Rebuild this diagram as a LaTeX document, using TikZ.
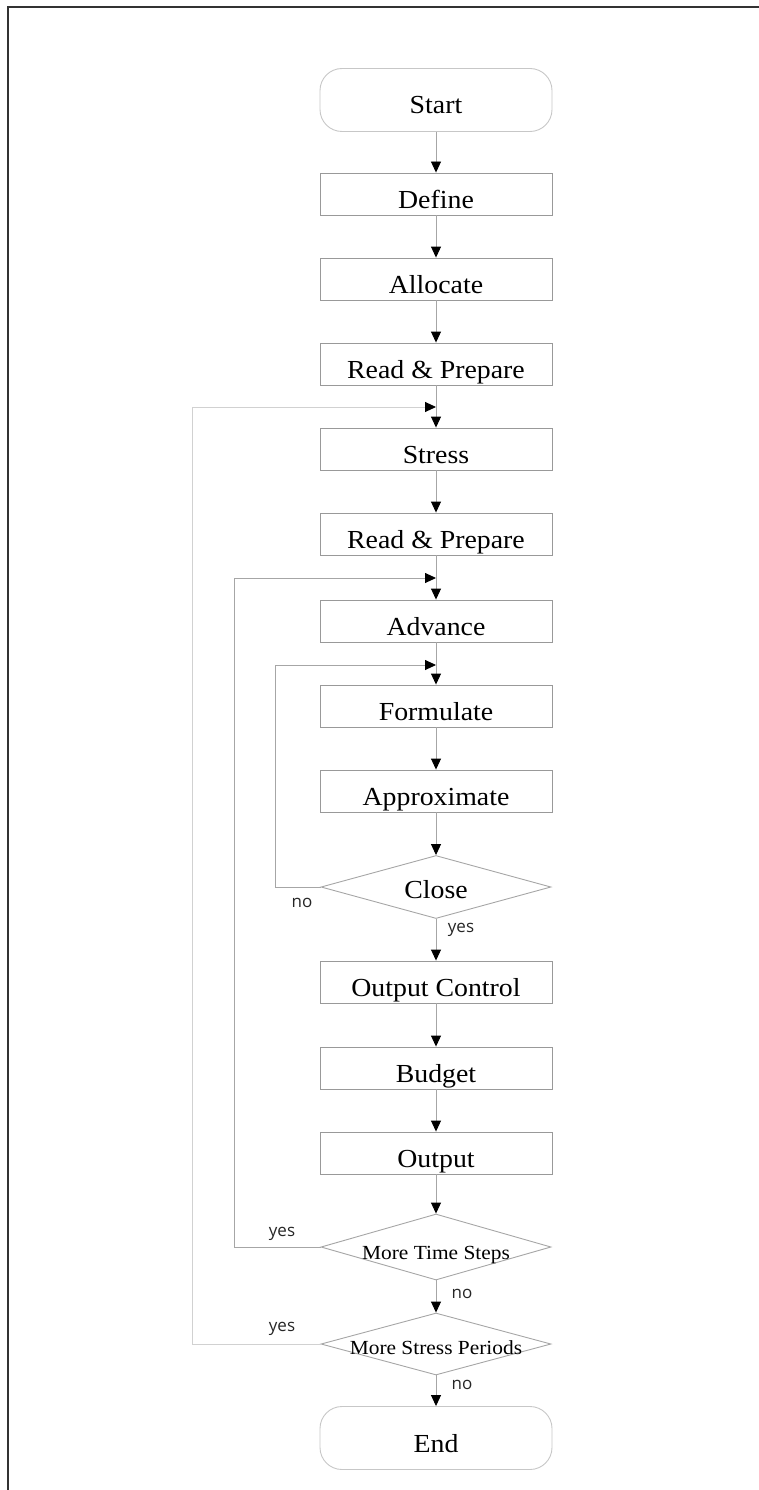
\documentclass[tikz,border=0pt]{standalone}
\usepackage{fontspec}
\setmainfont{Liberation Serif}[FakeStretch=1.07]
\newfontfamily\yesnofont{Open Sans}
\usetikzlibrary{arrows.meta,shapes.geometric}
\begin{document}
\begin{tikzpicture}[x=1pt,y=-1pt,
  box/.style={draw=black!40, line width=0.9pt, minimum width=232pt, minimum height=42pt, inner sep=0pt, text height=28pt, text depth=0pt, font=\fontsize{26}{30}\selectfont},
  term/.style={box, rounded corners=22pt, minimum height=63pt, draw=black!22},
  dia/.style={draw=black!35, line width=0.9pt, diamond, minimum width=230pt, minimum height=63pt, inner sep=0pt},
  bigtext/.style={font=\fontsize{26}{30}\selectfont, inner sep=0pt},
  dtext/.style={font=\fontsize{20}{24}\selectfont, inner sep=0pt},
  conn/.style={draw=black!35, line width=0.9pt},
  arr/.style={conn, -{Triangle[length=11pt,width=10pt,color=black]}},
  faint/.style={arr, draw=black!18},
  lbl/.style={font=\yesnofont\fontsize{17}{20}\selectfont, inner sep=0pt, text=black!85},
]
\useasboundingbox (0,0) rectangle (759,1490);
% frame
\draw[line width=1.5pt, black!80] (8,1490) -- (8,7) -- (759,7);

% process boxes
\node[term] (start) at (436,100) {Start};
\node[box] (define) at (436,194) {Define};
\node[box] (allocate) at (436,279) {Allocate};
\node[box] (rp1) at (436,364) {Read \& Prepare};
\node[box] (stress) at (436,449) {Stress};
\node[box] (rp2) at (436,534) {Read \& Prepare};
\node[box] (advance) at (436,621) {Advance};
\node[box] (formulate) at (436,706) {Formulate};
\node[box] (approx) at (436,791) {Approximate};
\node[dia] (close) at (436,887) {};
\node[bigtext] (closeT) at (436,890) {Close};
\node[box] (outctl) at (436,982) {Output Control};
\node[box] (budget) at (436,1068) {Budget};
\node[box] (output) at (436,1153) {Output};
\node[dia, minimum height=66pt] (mts) at (436,1247) {};
\node[dtext] (mtsT) at (436,1255) {More Time Steps};
\node[dia, minimum height=62pt] (msp) at (436,1344) {};
\node[dtext] (mspT) at (436,1348) {More Stress Periods};
\node[term] (finish) at (436,1438) {End};

% join points
\coordinate (j1) at (436,407);
\coordinate (j2) at (436,578);
\coordinate (j3) at (436,665);

% main flow
\draw[arr] (start) -- (define);
\draw[arr] (define) -- (allocate);
\draw[arr] (allocate) -- (rp1);
\draw[arr] (rp1) -- (stress);
\draw[arr] (stress) -- (rp2);
\draw[arr] (rp2) -- (advance);
\draw[arr] (advance) -- (formulate);
\draw[arr] (formulate) -- (approx);
\draw[arr] (approx) -- (close);
\draw[arr] (close) -- (outctl);
\draw[arr] (outctl) -- (budget);
\draw[arr] (budget) -- (output);
\draw[arr] (output) -- (mts);
\draw[arr] (mts) -- (msp);
\draw[arr] (msp) -- (finish);

% loops
\draw[arr] (close.west) -- ++(-45,0) |- (j3);
\draw[arr] (mts.west) -- ++(-86,0) |- (j2);
\draw[faint] (msp.west) -- ++(-128,0) |- (j1);

% labels
\node[lbl] (noClose) at (302,903) {no};
\node[lbl] (yesClose) at (461,930) {yes};
\node[lbl] (yesMts) at (282,1234) {yes};
\node[lbl] (noMts) at (462,1294) {no};
\node[lbl] (yesMsp) at (282,1329) {yes};
\node[lbl] (noMsp) at (462,1385) {no};
\end{tikzpicture}
\end{document}
